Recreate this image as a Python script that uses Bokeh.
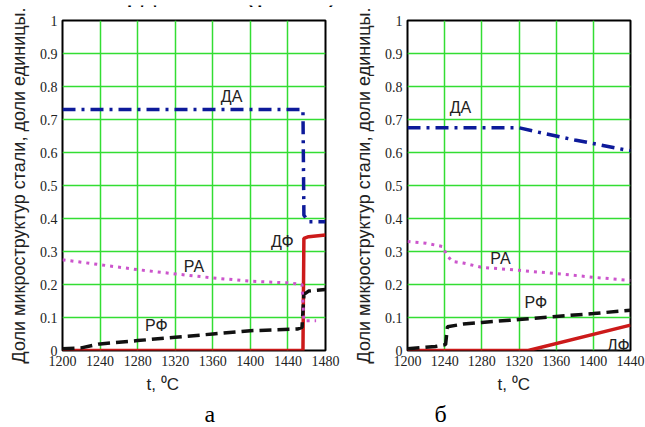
from bokeh.plotting import figure
from bokeh.layouts import row, column
from bokeh.models import FixedTicker, CustomJSTickFormatter, Label, Range1d, Title
from bokeh.core.properties import value
from bokeh.embed import file_html
from bokeh.resources import INLINE

# ---------------- data: panel a ----------------
a_da_t = [1200, 1456, 1457, 1462, 1480]
a_da_v = [0.73, 0.73, 0.41, 0.39, 0.39]
a_df_t = [1200, 1456, 1457, 1462, 1480]
a_df_v = [0.0, 0.0, 0.34, 0.345, 0.35]
a_ra_t = [1200, 1240, 1280, 1320, 1360, 1400, 1440, 1455, 1457, 1470]
a_ra_v = [0.275, 0.26, 0.245, 0.232, 0.22, 0.21, 0.205, 0.2, 0.09, 0.09]
a_rf_t = [1200, 1220, 1240, 1280, 1320, 1360, 1400, 1450, 1455, 1457, 1462, 1480]
a_rf_v = [0.005, 0.008, 0.02, 0.03, 0.04, 0.05, 0.06, 0.065, 0.07, 0.17, 0.18, 0.185]
a_lab_text = ["ДА", "ДФ", "РА", "РФ"]
a_lab_t = [1380, 1434, 1340, 1300]
a_lab_v = [0.77, 0.33, 0.255, 0.075]

# ---------------- data: panel b ----------------
b_da_t = [1200, 1320, 1340, 1360, 1380, 1400, 1420, 1440]
b_da_v = [0.675, 0.675, 0.662, 0.65, 0.638, 0.627, 0.616, 0.605]
b_df_t = [1200, 1330, 1440]
b_df_v = [0.0, 0.0, 0.077]
b_ra_t = [1200, 1220, 1238, 1242, 1248, 1260, 1280, 1320, 1360, 1400, 1440]
b_ra_v = [0.33, 0.325, 0.315, 0.29, 0.27, 0.265, 0.252, 0.243, 0.233, 0.222, 0.212]
b_rf_t = [1200, 1230, 1241, 1243, 1260, 1280, 1320, 1360, 1400, 1440]
b_rf_v = [0.005, 0.012, 0.018, 0.072, 0.08, 0.085, 0.094, 0.103, 0.112, 0.122]
b_lab_text = ["ДА", "РА", "РФ", "ДФ"]
b_lab_t = [1257, 1300, 1338, 1427]
b_lab_v = [0.735, 0.28, 0.145, 0.015]

y_ticks = [0, 0.1, 0.2, 0.3, 0.4, 0.5, 0.6, 0.7, 0.8, 0.9, 1.0]
a_x_ticks = [1200, 1240, 1280, 1320, 1360, 1400, 1440, 1480]
b_x_ticks = [1200, 1240, 1280, 1320, 1360, 1400, 1440]

Y_LABEL = "Доли микроструктур стали, доли единицы."
X_LABEL = "t, ⁰C"
TOP_TEXT = "ости затвердевания(рис.1)."
PANEL_NAMES = ["а", "б"]

DA_C = "#0d1a9a"
DF_C = "#cc1a1a"
RA_C = "#cc55cc"
RF_C = "#111111"
GRID_C = "#33dd33"
TXT_C = "#222222"

TOP_H = 7
PANEL_H = 427 - TOP_H


def make_panel(width, xr, xticks, mb_left, mb_right, mb_top, mb_bottom,
               da, df, ra, rf, labs, xl_offset, name_offset):
    p = figure(width=width, height=PANEL_H, output_backend="svg", toolbar_location=None,
               x_range=Range1d(*xr), y_range=Range1d(0, 1),
               min_border_left=mb_left, min_border_right=mb_right,
               min_border_top=mb_top, min_border_bottom=mb_bottom)
    p.background_fill_color = "white"
    p.border_fill_color = "white"
    p.outline_line_color = "black"
    p.outline_line_width = 2
    p.xaxis.ticker = FixedTicker(ticks=xticks)
    p.yaxis.ticker = FixedTicker(ticks=y_ticks)
    p.yaxis.formatter = CustomJSTickFormatter(
        code="var s = tick.toFixed(1); return s.replace(/\\.0$/, '');")
    for ax in (p.xaxis[0], p.yaxis[0]):
        ax.axis_line_color = None
        ax.major_tick_line_color = None
        ax.minor_tick_line_color = None
        ax.major_tick_out = 0
        ax.major_label_text_font = "Liberation Serif"
        ax.major_label_text_font_size = "14px"
        ax.major_label_text_color = TXT_C
        ax.axis_label_text_font = "Liberation Sans"
        ax.axis_label_text_font_style = "normal"
        ax.axis_label_text_color = TXT_C
    p.yaxis.major_label_standoff = 5
    p.xaxis.major_label_standoff = 5
    p.yaxis.axis_label = Y_LABEL
    p.yaxis.axis_label_text_font_size = "18px"
    p.yaxis.axis_label_standoff = 8
    p.xgrid.grid_line_color = GRID_C
    p.ygrid.grid_line_color = GRID_C
    p.xgrid.grid_line_width = 1.5
    p.ygrid.grid_line_width = 1.5

    p.line(df[0], df[1], line_color=DF_C, line_width=3.5)
    p.line(rf[0], rf[1], line_color=RF_C, line_width=3.5, line_dash="12 6")
    p.line(ra[0], ra[1], line_color=RA_C, line_width=3, line_dash="3 5")
    p.line(da[0], da[1], line_color=DA_C, line_width=3.5, line_dash="13 6 3 6")
    p.text(x=labs[1], y=labs[2], text=labs[0], text_font=value("Liberation Sans"),
           text_font_size="16px", text_align="center", text_baseline="middle",
           text_color=TXT_C)

    p.add_layout(Title(text=X_LABEL, align="left", offset=xl_offset, standoff=8,
                       text_font="Liberation Sans", text_font_style="normal",
                       text_font_size="17px", text_color=TXT_C), "below")
    p.add_layout(Title(text=name_offset[0], align="left", offset=name_offset[1],
                       standoff=2, text_font="Liberation Serif",
                       text_font_style="normal", text_font_size="24px",
                       text_color="black"), "below")
    return p


p1 = make_panel(345, (1200, 1480), a_x_ticks, 62, 20, 14 - TOP_H, 73,
                (a_da_t, a_da_v), (a_df_t, a_df_v), (a_ra_t, a_ra_v), (a_rf_t, a_rf_v),
                (a_lab_text, a_lab_t, a_lab_v), 84, (PANEL_NAMES[0], 142))
p2 = make_panel(300, (1200, 1440), b_x_ticks, 62, 15, 20 - TOP_H, 69,
                (b_da_t, b_da_v), (b_df_t, b_df_v), (b_ra_t, b_ra_v), (b_rf_t, b_rf_v),
                (b_lab_text, b_lab_t, b_lab_v), 90, (PANEL_NAMES[1], 27))

top = figure(width=645, height=TOP_H, output_backend="svg", toolbar_location=None,
             title=None, x_range=Range1d(0, 1), y_range=Range1d(0, 1),
             x_axis_type=None, y_axis_type=None,
             min_border_left=0, min_border_right=0, min_border_top=0, min_border_bottom=0)
top.grid.visible = False
top.outline_line_color = None
top.border_fill_color = "white"
top.background_fill_color = "white"
top.add_layout(Label(x=343, y=19, x_units="screen", y_units="screen",
                     text=TOP_TEXT, text_align="right",
                     text_baseline="alphabetic", text_font="Liberation Serif",
                     text_font_size="31px", text_color="black"))

layout = column(top, row(p1, p2, spacing=0), spacing=0)
open("out.html", "w").write(file_html(layout, INLINE))
